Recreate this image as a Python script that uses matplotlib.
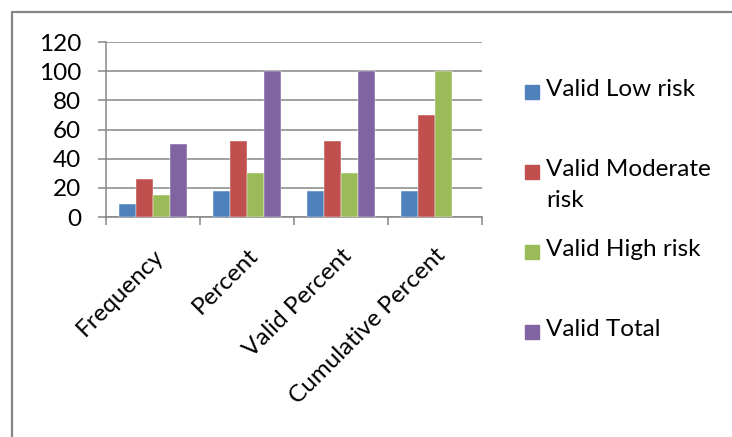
import numpy as np
import matplotlib.pyplot as plt
from matplotlib.patches import Rectangle
from matplotlib.lines import Line2D

plt.rcParams['font.family'] = ['Lato', 'DejaVu Sans']

categories = ['Frequency', 'Percent', 'Valid Percent', 'Cumulative Percent']
series_names = ['Valid Low risk', 'Valid Moderate\nrisk', 'Valid High risk', 'Valid Total']
low = [9, 18, 18, 18]
moderate = [26, 52, 52, 70]
high = [15, 30, 30, 100]
total = [50, 100, 100, np.nan]
colors = ['#4F81BD', '#C0504D', '#9BBB59', '#8064A2']
yticks = [0, 20, 40, 60, 80, 100, 120]

W, H = 732, 437
fs = 17.5
fig = plt.figure(figsize=(W / 100, H / 100), dpi=100)
ax = fig.add_axes([106 / W, 1 - 217 / H, (482 - 106) / W, (217 - 42) / H])

grid_c = '#868686'
x = np.arange(len(categories))
bw = 1 / 5.5
for i, vals in enumerate([low, moderate, high, total]):
    ax.bar(x + (i - 1.5) * bw, vals, width=bw, color=colors[i], zorder=3,
           edgecolor='white', linewidth=0.3)

ax.set_xlim(-0.5, len(categories) - 0.5)
ax.set_ylim(0, 120)
ax.set_yticks(yticks)
ax.set_yticklabels([str(v) for v in yticks], fontsize=fs)
ax.yaxis.grid(True, color=grid_c, linewidth=1.1, zorder=0)
ax.tick_params(axis='y', length=6, width=1.1, color=grid_c, pad=12)

ax.set_xticks(x)
ax.set_xticklabels(categories, fontsize=fs, rotation=45, ha='right',
                   rotation_mode='anchor')
ax.set_xticks(np.arange(len(categories) + 1) - 0.5, minor=True)
ax.tick_params(axis='x', which='major', length=0, pad=20)
ax.tick_params(axis='x', which='minor', length=6, width=1.1, color=grid_c)

for s in ['top', 'right']:
    ax.spines[s].set_visible(False)
for s in ['left', 'bottom']:
    ax.spines[s].set_color(grid_c)
    ax.spines[s].set_linewidth(1.1)

# legend drawn by hand so multi-line label aligns on its first line
for i, name in enumerate(series_names):
    yc = 92 + 80 * i
    fig.add_artist(Rectangle((525 / W, 1 - (yc + 7) / H), 14 / W, 14 / H,
                             transform=fig.transFigure, color=colors[i]))
    fig.text(546 / W, 1 - (yc - 13) / H, name, fontsize=fs, va='top',
             ha='left', linespacing=1.6)

# outer chart border (top and left visible)
fig.add_artist(Line2D([12 / W, 12 / W, 1], [0, 1 - 12 / H, 1 - 12 / H],
                      transform=fig.transFigure, color=grid_c, linewidth=1.6))

fig.savefig('out.png', dpi=100)
